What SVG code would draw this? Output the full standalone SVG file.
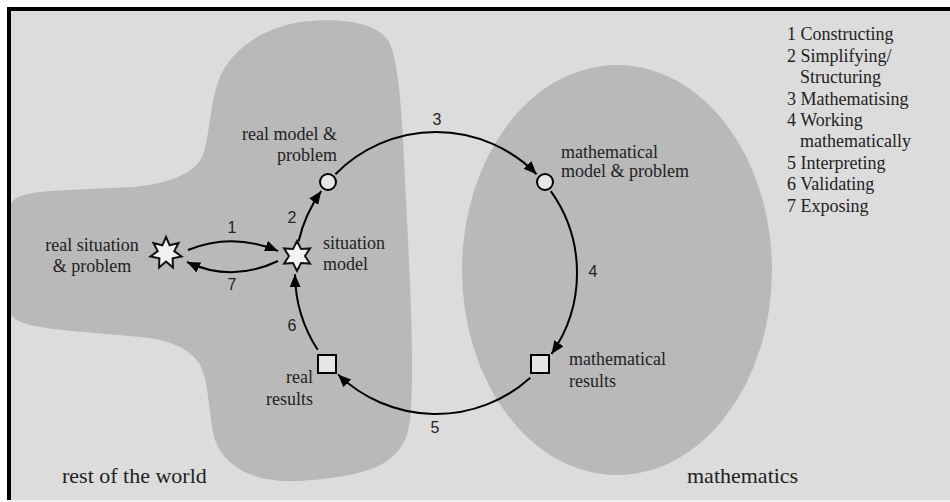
<svg xmlns="http://www.w3.org/2000/svg" width="950" height="502" viewBox="0 0 950 502">
<style>
.lbl{font-family:"Liberation Serif","Times New Roman",serif;font-size:18px;fill:#222}
.big{font-family:"Liberation Serif","Times New Roman",serif;font-size:22px;fill:#222}
.num{font-family:"Liberation Sans",Arial,sans-serif;font-size:16px;fill:#222;text-anchor:middle}
.region{fill:#b9b9b9}
.node{fill:#e6e6e6;stroke:#000;stroke-width:2}
.star{fill:#f2f2f2;stroke:#111;stroke-width:2;stroke-linejoin:miter}
.conn{fill:none;stroke:#000;stroke-width:2;marker-end:url(#ah)}
</style>
<defs>
<marker id="ah" markerUnits="userSpaceOnUse" markerWidth="14" markerHeight="12" refX="13" refY="5.5" orient="auto">
<path d="M0,0 L13,5.5 L0,11 z" fill="#000"/>
</marker>
</defs>
<rect x="0" y="0" width="950" height="502" fill="#ffffff"/>
<rect x="7" y="7" width="943" height="493" fill="#000"/>
<rect x="11" y="11" width="939" height="489" fill="#dcdcdc"/>
<rect x="7" y="500" width="943" height="2" fill="#eeeeee"/>

<g id="region-world">
<path class="region" d="M 11 205 C 13 195, 30 192, 67 190 L 133 187 C 165 184, 195 175, 203 155 C 210 135, 210 100, 220 77 C 232 50, 262 28, 300 22 C 340 17, 375 22, 388 40 C 400 60, 403 130, 406 200 C 410 280, 415 370, 410 420 C 405 465, 370 476, 300 481 C 255 483, 225 468, 215 440 C 208 415, 210 385, 200 365 C 190 348, 170 340, 140 337 C 100 333, 50 330, 30 325 C 18 322, 11 318, 11 312 Z"/>
<text class="big" x="62" y="483">rest of the world</text>
</g>
<g id="region-math">
<ellipse class="region" cx="617" cy="270" rx="155" ry="205"/>
<text class="big" x="687" y="483">mathematics</text>
</g>

<g id="connectors">
<path class="conn" d="M 298.6 241.3 A 141 141 0 0 1 321.2 191.1"/>
<path class="conn" d="M 335.4 174.2 A 141 141 0 0 1 536.6 174.2"/>
<path class="conn" d="M 550.8 191.1 A 141 141 0 0 1 551.5 353.9"/>
<path class="conn" d="M 530.3 377.8 A 141 141 0 0 1 338.0 374.4"/>
<path class="conn" d="M 317.7 349.8 A 141 141 0 0 1 295.0 274.2"/>
<path class="conn" d="M 188 250 Q 232 232 278 251"/>
<path class="conn" d="M 278 261 Q 232 283 187 262"/>
<text class="num" x="232" y="233">1</text>
<text class="num" x="292" y="223">2</text>
<text class="num" x="437" y="125">3</text>
<text class="num" x="593" y="277">4</text>
<text class="num" x="435" y="433">5</text>
<text class="num" x="292" y="331">6</text>
<text class="num" x="232" y="290">7</text>
</g>

<g id="real-situation">
<polygon class="star" points="166,237 169.69,245.34 178.51,243.02 174.29,251.11 181.6,256.56 172.65,258.3 172.94,267.42 166,261.5 159.06,267.42 159.35,258.3 150.4,256.56 157.71,251.11 153.49,243.02 162.31,245.34"/>
<text class="lbl" x="92" y="251" text-anchor="middle">real situation</text>
<text class="lbl" x="92" y="272" text-anchor="middle">&amp; problem</text>
</g>
<g id="situation-model">
<polygon class="star" points="297,241 301,249.07 309.99,248.5 305,256 309.99,263.5 301,262.93 297,271 293,262.93 284.01,263.5 289,256 284.01,248.5 293,249.07"/>
<text class="lbl" x="323" y="249">situation</text>
<text class="lbl" x="323" y="270">model</text>
</g>
<g id="real-model">
<circle class="node" cx="328" cy="182" r="8"/>
<text class="lbl" x="337" y="140" text-anchor="end">real model &amp;</text>
<text class="lbl" x="337" y="161" text-anchor="end">problem</text>
</g>
<g id="math-model">
<circle class="node" cx="545" cy="182" r="8"/>
<text class="lbl" x="561" y="158">mathematical</text>
<text class="lbl" x="561" y="177">model &amp; problem</text>
</g>
<g id="math-results">
<rect class="node" x="531" y="355" width="18" height="18"/>
<text class="lbl" x="569" y="365">mathematical</text>
<text class="lbl" x="569" y="387">results</text>
</g>
<g id="real-results">
<rect class="node" x="318" y="355" width="18" height="18"/>
<text class="lbl" x="313" y="383" text-anchor="end">real</text>
<text class="lbl" x="313" y="405" text-anchor="end">results</text>
</g>

<g id="legend">
<text class="lbl" x="787" y="40">1 Constructing</text>
<text class="lbl" x="787" y="62">2 Simplifying/</text>
<text class="lbl" x="800" y="83">Structuring</text>
<text class="lbl" x="787" y="105">3 Mathematising</text>
<text class="lbl" x="787" y="126">4 Working</text>
<text class="lbl" x="800" y="147">mathematically</text>
<text class="lbl" x="787" y="169">5 Interpreting</text>
<text class="lbl" x="787" y="190">6 Validating</text>
<text class="lbl" x="787" y="212">7 Exposing</text>
</g>
</svg>
